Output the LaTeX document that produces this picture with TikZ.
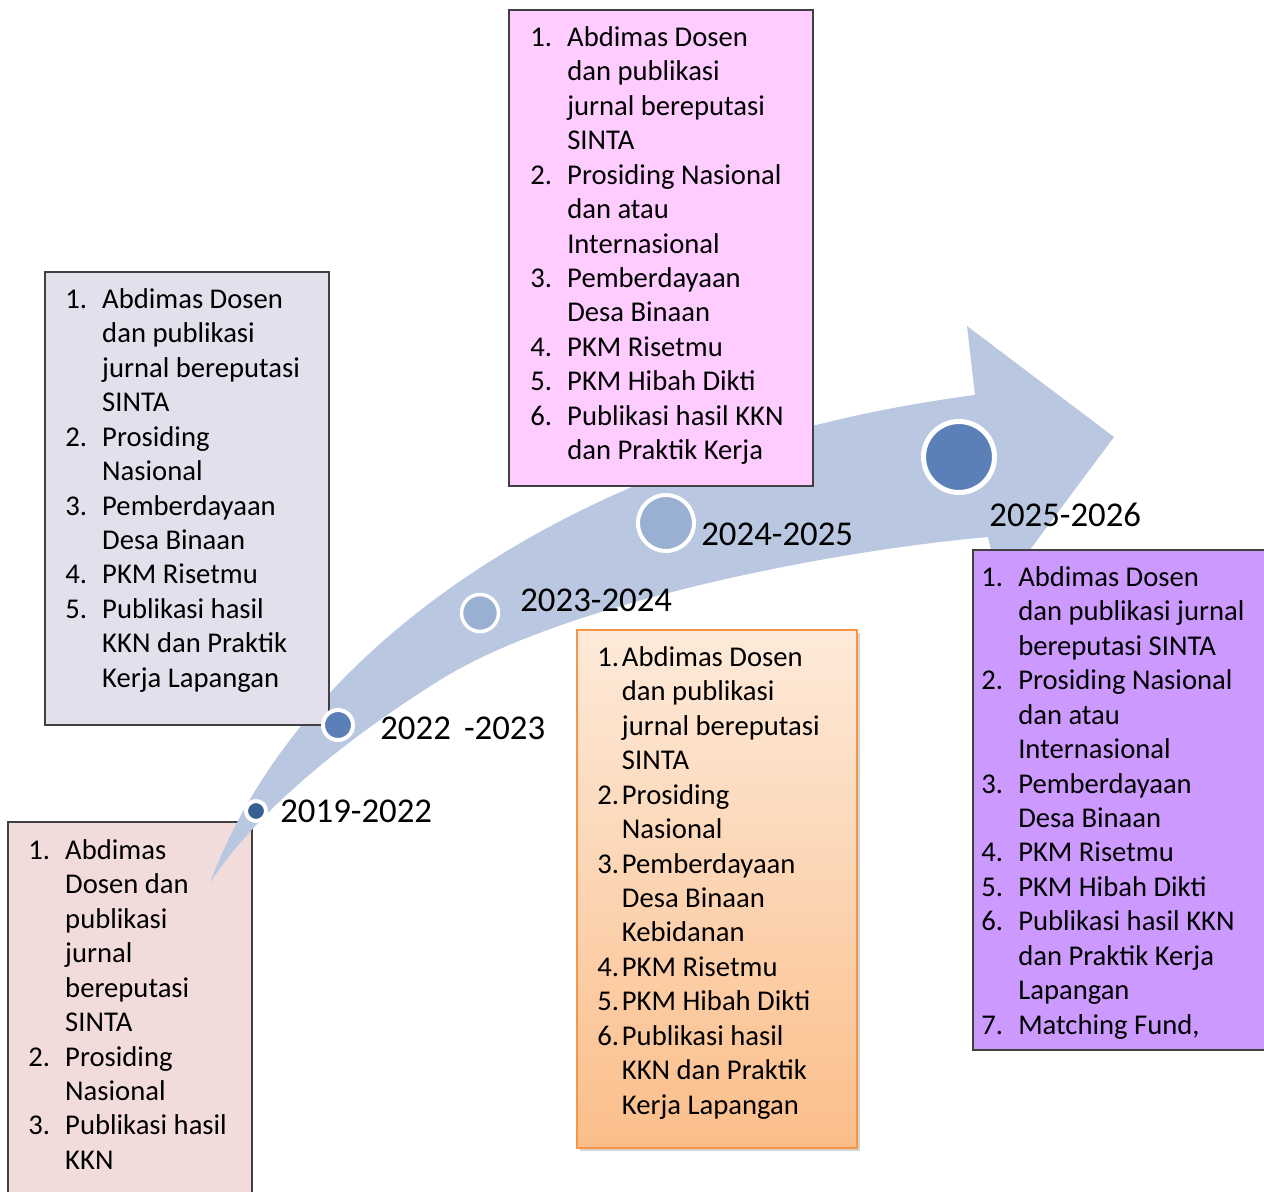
\documentclass[tikz,border=0pt]{standalone}
\usepackage{fontspec}
\setmainfont{Carlito}
\usetikzlibrary{shadows}

\definecolor{ribbon}{HTML}{B9C8E0}
\definecolor{boxline}{HTML}{404040}
\definecolor{lavender}{HTML}{E4DFEC}
\definecolor{rosebox}{HTML}{F2DCDB}
\definecolor{pinkbox}{HTML}{FFCCFF}
\definecolor{purplebox}{HTML}{CC99FF}
\definecolor{orangeline}{HTML}{F79646}
\definecolor{orangetop}{HTML}{FDEADA}
\definecolor{orangebot}{HTML}{FBBE8A}
\definecolor{darkdot}{HTML}{376092}
\definecolor{middot}{HTML}{5B80B8}
\definecolor{lightdot}{HTML}{9AB0D2}

\newcommand{\listfont}{\fontsize{16.3pt}{19.6pt}\selectfont}

\begin{document}
\begin{tikzpicture}[x=0.02cm, y=-0.02cm,
	box/.style={draw=boxline, line width=0.85pt},
	lst/.style={anchor=north west, inner sep=0pt, font=\listfont},
	yr/.style={anchor=west, inner sep=0pt, font=\fontsize{19.8pt}{23pt}\selectfont},
	dot/.style={circle, draw=white, inner sep=0pt}]
	\clip (0,0) rectangle (1264,1192);
	% Box 2019-2022
	\draw[box, fill=rosebox] (8,822) rectangle (252,1210);
	\node[lst] (t2019) at (28,835) {\begin{tabular}{@{}p{21pt}@{}l@{}}
		1. & Abdimas\\ & Dosen dan\\ & publikasi\\ & jurnal\\ & bereputasi\\ & SINTA\\
		2. & Prosiding\\ & Nasional\\
		3. & Publikasi hasil\\ & KKN
	\end{tabular}};
	% Arrow
	\fill[ribbon] (210,883) .. controls (300,640) and (590,445) .. (975,395)
		-- (967,326) -- (1114,437) -- (1000,590) -- (988,537)
		.. controls (820,552) and (560,605) .. (440,680)
		.. controls (360,730) and (260,805) .. (210,883) -- cycle;
	% Box 2022-2023
	\draw[box, fill=lavender] (45,272) rectangle (329,725);
	\node[lst] (t2022) at (65,284) {\begin{tabular}{@{}p{21pt}@{}l@{}}
		1. & Abdimas Dosen\\ & dan publikasi\\ & jurnal bereputasi\\ & SINTA\\
		2. & Prosiding\\ & Nasional\\
		3. & Pemberdayaan\\ & Desa Binaan\\
		4. & PKM Risetmu\\
		5. & Publikasi hasil\\ & KKN dan Praktik\\ & Kerja Lapangan
	\end{tabular}};
	% Box 2024-2025
	\draw[box, fill=pinkbox] (509,10) rectangle (813,486);
	\node[lst] (t2024) at (530,22) {\begin{tabular}{@{}p{21pt}@{}l@{}}
		1. & Abdimas Dosen\\ & dan publikasi\\ & jurnal bereputasi\\ & SINTA\\
		2. & Prosiding Nasional\\ & dan atau\\ & Internasional\\
		3. & Pemberdayaan\\ & Desa Binaan\\
		4. & PKM Risetmu\\
		5. & PKM Hibah Dikti\\
		6. & Publikasi hasil KKN\\ & dan Praktik Kerja
	\end{tabular}};
	% Box 2023-2024
	\draw[draw=orangeline, line width=1.1pt, top color=orangetop, bottom color=orangebot,
		drop shadow={shadow xshift=1.5pt, shadow yshift=-1.5pt, opacity=0.35}] (577,630) rectangle (857,1148);
	\node[lst] (t2023) at (597,642) {\begin{tabular}{@{}p{14pt}@{}l@{}}
		1. & Abdimas Dosen\\ & dan publikasi\\ & jurnal bereputasi\\ & SINTA\\
		2. & Prosiding\\ & Nasional\\
		3. & Pemberdayaan\\ & Desa Binaan\\ & Kebidanan\\
		4. & PKM Risetmu\\
		5. & PKM Hibah Dikti\\
		6. & Publikasi hasil\\ & KKN dan Praktik\\ & Kerja Lapangan
	\end{tabular}};
	% Box 2025-2026
	\draw[box, fill=purplebox] (973,550) rectangle (1280,1050);
	\node[lst] (t2025) at (981,562) {\begin{tabular}{@{}p{21pt}@{}l@{}}
		1. & Abdimas Dosen\\ & dan publikasi jurnal\\ & bereputasi SINTA\\
		2. & Prosiding Nasional\\ & dan atau\\ & Internasional\\
		3. & Pemberdayaan\\ & Desa Binaan\\
		4. & PKM Risetmu\\
		5. & PKM Hibah Dikti\\
		6. & Publikasi hasil KKN\\ & dan Praktik Kerja\\ & Lapangan\\
		7. & Matching Fund,
	\end{tabular}};
	% Dots
	\node[dot, fill=darkdot, line width=0.08cm, minimum size=0.4cm] (d2019) at (256,811) {};
	\node[dot, fill=middot, line width=0.08cm, minimum size=0.6cm] (d2022) at (338,725) {};
	\node[dot, fill=lightdot, line width=0.07cm, minimum size=0.74cm] (d2023) at (480,613) {};
	\node[dot, fill=lightdot, line width=0.08cm, minimum size=1.12cm] (d2024) at (666,523) {};
	\node[dot, fill=middot, line width=0.1cm, minimum size=1.42cm] (d2025) at (959,457) {};
	% Years
	\node[yr] (y2019) at (280,811) {2019-2022};
	\node[yr] (y2022) at (380,728) {2022\hspace{3pt} -2023};
	\node[yr] (y2023) at (520,600) {2023-2024};
	\node[yr] (y2024) at (701,534) {2024-2025};
	\node[yr] (y2025) at (989,515) {2025-2026};
\end{tikzpicture}
\end{document}
